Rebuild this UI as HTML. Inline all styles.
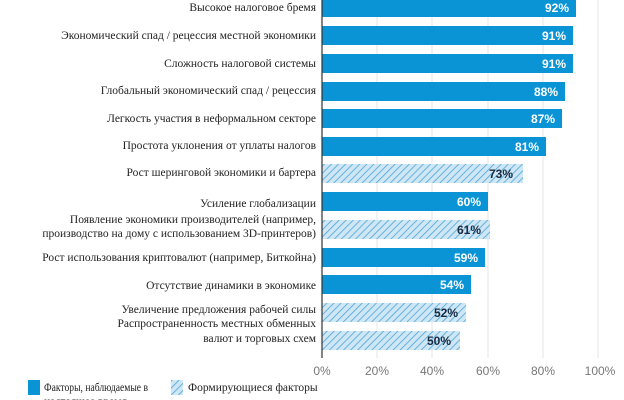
<!DOCTYPE html>
<html><head><meta charset="utf-8"><style>
html,body{margin:0;padding:0;background:#fff;}
svg{display:block;}
.l{font-family:"Liberation Serif",serif;font-size:11.5px;fill:#222;text-anchor:end;}
.v{font-family:"Liberation Sans",sans-serif;font-size:12px;font-weight:bold;text-anchor:end;}
.t{font-family:"Liberation Sans",sans-serif;font-size:12px;fill:#777;text-anchor:middle;}
.g{font-family:"Liberation Serif",serif;font-size:11.5px;fill:#222;}
</style></head><body>
<svg width="624" height="400" xmlns="http://www.w3.org/2000/svg">
<defs>
<pattern id="h" patternUnits="userSpaceOnUse" width="5" height="5" patternTransform="rotate(45)">
<rect width="5" height="5" fill="#cfe6f5"/>
<line x1="0" y1="0" x2="0" y2="5" stroke="#4aa5d9" stroke-width="1.6"/>
</pattern>
</defs>
<g stroke="#e6e6e6" stroke-width="1">
<line x1="377" y1="0" x2="377" y2="358"/><line x1="432" y1="0" x2="432" y2="358"/>
<line x1="488" y1="0" x2="488" y2="358"/><line x1="543" y1="0" x2="543" y2="358"/>
<line x1="598" y1="0" x2="598" y2="358"/>
</g>
<g fill="#0a94d6">
<rect x="322" y="-2" width="254" height="19"/>
<rect x="322" y="26" width="251" height="19"/>
<rect x="322" y="54" width="251" height="19"/>
<rect x="322" y="82" width="243" height="19"/>
<rect x="322" y="109" width="240" height="19"/>
<rect x="322" y="137" width="224" height="19"/>
<rect x="322" y="192" width="166" height="19"/>
<rect x="322" y="248" width="163" height="19"/>
<rect x="322" y="275" width="149" height="19"/>
</g>
<g fill="url(#h)">
<rect x="322" y="164" width="201" height="19"/>
<rect x="322" y="220" width="168" height="19"/>
<rect x="322" y="303" width="144" height="19"/>
<rect x="322" y="331" width="138" height="19"/>
</g>
<line x1="322" y1="0" x2="322" y2="358" stroke="#333" stroke-width="1.2"/>
<g class="v" fill="#fff">
<text x="569" y="12">92%</text><text x="566" y="40">91%</text><text x="566" y="68">91%</text>
<text x="558" y="96">88%</text><text x="555" y="123">87%</text><text x="539" y="151">81%</text>
<text x="481" y="206">60%</text><text x="478" y="262">59%</text><text x="464" y="289">54%</text>
</g>
<g class="v" fill="#1a2a40">
<text x="513" y="178">73%</text><text x="481" y="234">61%</text><text x="458" y="317">52%</text><text x="451" y="345">50%</text>
</g>
<g class="l">
<text x="316" y="11">Высокое налоговое бремя</text>
<text x="316" y="39">Экономический спад / рецессия  местной экономики</text>
<text x="316" y="67">Сложность налоговой системы</text>
<text x="316" y="94">Глобальный экономический спад / рецессия</text>
<text x="316" y="122">Легкость участия в неформальном секторе</text>
<text x="316" y="149">Простота уклонения от уплаты налогов</text>
<text x="316" y="176">Рост шеринговой экономики и бартера</text>
<text x="316" y="207">Усиление глобализации</text>
<text x="316" y="223">Появление экономики производителей (например,</text>
<text x="316" y="237">производство на дому с использованием 3D-принтеров)</text>
<text x="316" y="261">Рост использования криптовалют (например, Биткойна)</text>
<text x="316" y="289">Отсутствие  динамики в экономике</text>
<text x="316" y="313">Увеличение предложения рабочей силы</text>
<text x="316" y="327">Распространенность местных обменных</text>
<text x="316" y="342">валют и торговых схем</text>
</g>
<g class="t">
<text x="322" y="375">0%</text><text x="377" y="375">20%</text><text x="432" y="375">40%</text>
<text x="488" y="375">60%</text><text x="543" y="375">80%</text><text x="600" y="375">100%</text>
</g>
<rect x="28" y="380" width="12" height="15" fill="#0a94d6"/>
<text class="g" x="44" y="391" textLength="104" lengthAdjust="spacingAndGlyphs">Факторы, наблюдаемые в</text>
<text class="g" x="44" y="405">настоящее время</text>
<rect x="171" y="380" width="12" height="15" fill="url(#h)"/>
<text class="g" x="188" y="391">Формирующиеся факторы</text>
</svg>
</body></html>
